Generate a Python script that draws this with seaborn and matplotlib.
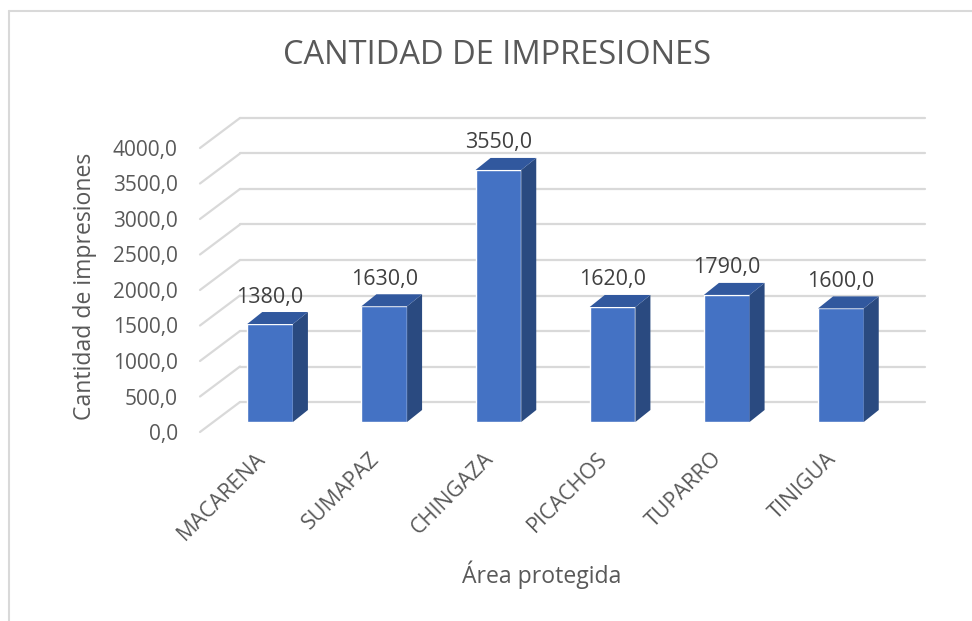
import matplotlib
matplotlib.use('Agg')
import matplotlib.pyplot as plt
import seaborn as sns
from matplotlib.patches import Polygon
from matplotlib.lines import Line2D

# Chart data
areas = ['MACARENA', 'SUMAPAZ', 'CHINGAZA', 'PICACHOS', 'TUPARRO', 'TINIGUA']
impresiones = [1380, 1630, 3550, 1620, 1790, 1600]
y_ticks = [0, 500, 1000, 1500, 2000, 2500, 3000, 3500, 4000]

sns.set_theme(style='white')
plt.rcParams['font.family'] = ['Open Sans', 'DejaVu Sans']
text_color = '#595959'
grid_color = '#d9d9d9'

fig = plt.figure(figsize=(9.72, 6.21), dpi=100)
ax = fig.add_axes([200 / 972, 1 - 432 / 621, 685 / 972, 284 / 621])
ax.set_xlim(-0.5, 5.5)
ax.set_ylim(0, 4000)

# pixel -> data conversion (fake 3D depth)
ux = 6 / 685
uy = 4000 / 284
wall_dx, wall_dy = 40 * ux, 30 * uy      # back wall offset
bar_dx, bar_dy = 13 * ux, 10 * uy        # bar front face offset
depth_dx, depth_dy = 15 * ux, 12 * uy    # bar depth

# back wall gridlines and left wall slants
for v in y_ticks:
    ax.plot([-0.5 + wall_dx, 5.5 + wall_dx], [v + wall_dy, v + wall_dy],
            color=grid_color, lw=1.6, clip_on=False, zorder=0)
    ax.plot([-0.5, -0.5 + wall_dx], [v, v + wall_dy],
            color=grid_color, lw=1.6, clip_on=False, zorder=0)

# bars
sns.barplot(x=areas, y=impresiones, color='#4472C4', width=0.4,
            saturation=1, ax=ax, zorder=2)

for p, val in zip(ax.patches, impresiones):
    p.set_x(p.get_x() + bar_dx)
    p.set_y(p.get_y() + bar_dy)
    p.set_clip_on(False)
    x0 = p.get_x()
    x1 = x0 + p.get_width()
    b = p.get_y()
    t = b + p.get_height()
    side = Polygon([(x1, b), (x1 + depth_dx, b + depth_dy),
                    (x1 + depth_dx, t + depth_dy), (x1, t)],
                   closed=True, facecolor='#2a4a80', edgecolor='none',
                   clip_on=False, zorder=2)
    top = Polygon([(x0, t), (x0 + depth_dx, t + depth_dy),
                   (x1 + depth_dx, t + depth_dy), (x1, t)],
                  closed=True, facecolor='#31589e', edgecolor='none',
                  clip_on=False, zorder=2)
    ax.add_patch(side)
    ax.add_patch(top)
    ax.text((x0 + x1) / 2, t + 27 * uy, f'{val:.1f}'.replace('.', ','),
            ha='center', va='center', fontsize=15.5, color='#404040',
            clip_on=False, zorder=3)

# axes cosmetics
for s in ax.spines.values():
    s.set_visible(False)
ax.set_facecolor('none')
ax.set_yticks(y_ticks)
ax.set_yticklabels([f'{v:.1f}'.replace('.', ',') for v in y_ticks])
ax.set_xticks([i + 5 * ux for i in range(len(areas))])
ax.set_xticklabels(areas)
ax.tick_params(axis='y', length=0, pad=16, labelsize=15, labelcolor=text_color)
ax.tick_params(axis='x', length=0, pad=17, labelsize=15.5, labelcolor=text_color)
plt.setp(ax.get_xticklabels(), rotation=45, ha='right', va='center',
         rotation_mode='anchor')
ax.set_xlabel('')
ax.set_ylabel('')

fig.text(497 / 972, 1 - 55 / 621, 'CANTIDAD DE IMPRESIONES', ha='center',
         va='center', fontsize=23.5, color=text_color)
fig.text(542 / 972, 1 - 575 / 621, 'Área protegida', ha='center',
         va='center', fontsize=16.6, color=text_color)
fig.text(85 / 972, 1 - 286 / 621, 'Cantidad de impresiones', ha='center',
         va='center', rotation=90, fontsize=16.6, color=text_color)

# chart area border (left and top)
fig.add_artist(Line2D([9 / 972, 9 / 972], [0, 1 - 11 / 621], color=grid_color, lw=1.5))
fig.add_artist(Line2D([9 / 972, 1], [1 - 11 / 621, 1 - 11 / 621], color=grid_color, lw=1.5))

fig.savefig('out.png', dpi=100, facecolor='white')
